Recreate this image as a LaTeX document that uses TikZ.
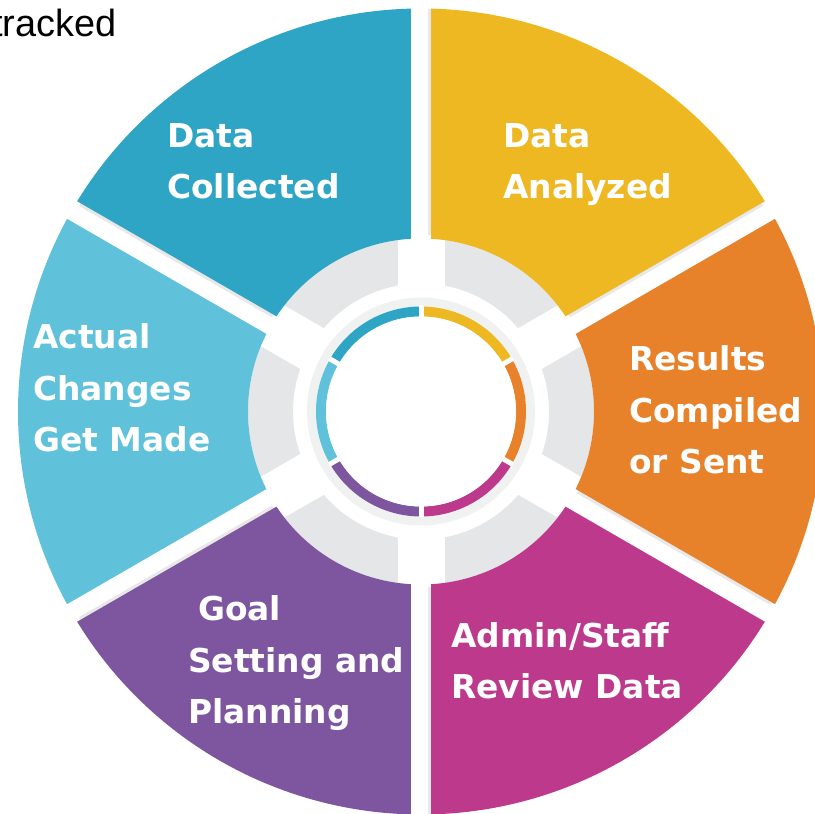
\documentclass[tikz,border=0pt]{standalone}
\usepackage{fontspec}
\newfontfamily\lblfont{DejaVu Sans}
\newfontfamily\tagfont{Liberation Sans}

\definecolor{colColl}{HTML}{2EA5C5}
\definecolor{colAnal}{HTML}{EDB821}
\definecolor{colRslt}{HTML}{E8822A}
\definecolor{colAdmn}{HTML}{BD398C}
\definecolor{colGoal}{HTML}{7E569F}
\definecolor{colChng}{HTML}{60C2DA}
\definecolor{ringGray}{HTML}{E5E6E8}
\definecolor{ringLight}{HTML}{F0F2F2}

\begin{document}
\begin{tikzpicture}[x=1bp,y=1bp,
  lbl/.style={anchor=base west, inner sep=0pt, align=left, text=white,
    font=\lblfont\bfseries\fontsize{33}{52}\selectfont},
  gap/.style={white, line width=20bp},
  gapshade/.style={black, opacity=0.09, line width=3bp},
  widegap/.style={white, line width=47bp},
  thingap/.style={white, line width=5bp}]

\useasboundingbox (0,0) rectangle (815,814);
\clip (0,0) rectangle (815,814);

\begin{scope}[shift={(421,402.5)}]
% gray ring with its spokes
\fill[ringGray, even odd rule] (0,0) circle[radius=173bp] (0,0) circle[radius=128bp];
\draw[widegap] (90:120bp) -- (90:180bp);
\draw[widegap] (30:120bp) -- (30:180bp);
\draw[widegap] (-30:120bp) -- (-30:180bp);
\draw[widegap] (-90:120bp) -- (-90:180bp);
\draw[widegap] (210:120bp) -- (210:180bp);
\draw[widegap] (150:120bp) -- (150:180bp);

% outer sectors
\fill[colColl] (90:173bp) -- (90:403bp) arc[start angle=90, end angle=150, radius=403bp] -- (150:173bp) arc[start angle=150, end angle=90, radius=173bp] -- cycle;
\fill[colAnal] (30:173bp) -- (30:403bp) arc[start angle=30, end angle=90, radius=403bp] -- (90:173bp) arc[start angle=90, end angle=30, radius=173bp] -- cycle;
\fill[colRslt] (-30:173bp) -- (-30:403bp) arc[start angle=-30, end angle=30, radius=403bp] -- (30:173bp) arc[start angle=30, end angle=-30, radius=173bp] -- cycle;
\fill[colAdmn] (-90:173bp) -- (-90:403bp) arc[start angle=-90, end angle=-30, radius=403bp] -- (-30:173bp) arc[start angle=-30, end angle=-90, radius=173bp] -- cycle;
\fill[colGoal] (210:173bp) -- (210:403bp) arc[start angle=210, end angle=270, radius=403bp] -- (270:173bp) arc[start angle=270, end angle=210, radius=173bp] -- cycle;
\fill[colChng] (150:173bp) -- (150:403bp) arc[start angle=150, end angle=210, radius=403bp] -- (210:173bp) arc[start angle=210, end angle=150, radius=173bp] -- cycle;
\draw[gap] (90:170bp) -- (90:410bp);
\draw[gap] (30:170bp) -- (30:410bp);
\draw[gap] (-30:170bp) -- (-30:410bp);
\draw[gap] (-90:170bp) -- (-90:410bp);
\draw[gap] (210:170bp) -- (210:410bp);
\draw[gap] (150:170bp) -- (150:410bp);
% soft shade along the edges of the gaps
\draw[gapshade, rotate=90] (176bp,-8.5bp) -- (402bp,-8.5bp);
\draw[gapshade, rotate=30] (176bp,8.5bp) -- (399bp,8.5bp);
\draw[gapshade, rotate=-30] (176bp,8.5bp) -- (399bp,8.5bp);
\draw[gapshade, rotate=150] (176bp,-8.5bp) -- (399bp,-8.5bp);
\draw[gapshade, rotate=210] (176bp,8.5bp) -- (399bp,8.5bp);
\draw[gapshade, rotate=-90] (176bp,8.5bp) -- (402bp,8.5bp);

% inner ring
\fill[ringLight] (0,0) circle[radius=114bp];
\draw[colColl, line width=10bp] (90:100bp) arc[start angle=90, end angle=150, radius=100bp];
\draw[colAnal, line width=10bp] (30:100bp) arc[start angle=30, end angle=90, radius=100bp];
\draw[colRslt, line width=10bp] (-30:100bp) arc[start angle=-30, end angle=30, radius=100bp];
\draw[colAdmn, line width=10bp] (-90:100bp) arc[start angle=-90, end angle=-30, radius=100bp];
\draw[colGoal, line width=10bp] (210:100bp) arc[start angle=210, end angle=270, radius=100bp];
\draw[colChng, line width=10bp] (150:100bp) arc[start angle=150, end angle=210, radius=100bp];
\draw[thingap] (90:92bp) -- (90:106bp);
\draw[thingap] (30:92bp) -- (30:106bp);
\draw[thingap] (-30:92bp) -- (-30:106bp);
\draw[thingap] (-90:92bp) -- (-90:106bp);
\draw[thingap] (210:92bp) -- (210:106bp);
\draw[thingap] (150:92bp) -- (150:106bp);
\fill[white] (0,0) circle[radius=95bp];
\end{scope}

% labels (anchored at the baseline of their last line)
\node[lbl] (coll) at (167,615) {Data\\Collected};
\node[lbl] (anal) at (503,615) {Data\\Analyzed};
\node[lbl] (rslt) at (629,340) {Results\\Compiled\\or Sent};
\node[lbl] (admn) at (451,115) {Admin/Staff\\Review Data};
\node[lbl] (goal) at (188,90) {\hspace*{10bp}Goal\\Setting and\\Planning};
\node[lbl] (chng) at (33,362) {Actual\\Changes\\Get Made};

\node[anchor=base west, inner sep=0pt, font=\tagfont\fontsize{38}{44}\selectfont] (trk) at (-8,777) {tracked};

\end{tikzpicture}
\end{document}
